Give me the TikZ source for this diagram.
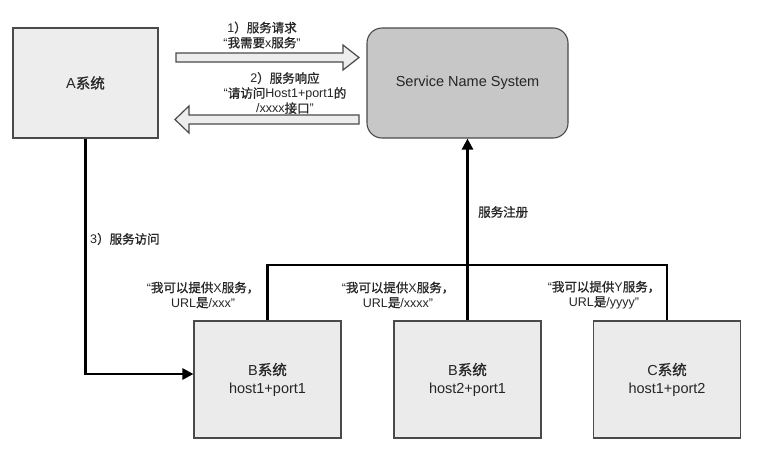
\documentclass[tikz,border=0pt]{standalone}
\usepackage{fontspec}
\setmainfont{Liberation Sans}
\newfontfamily\cjk[FakeBold=1]{Noto Sans CJK SC}
\newcommand\zh[1]{{\cjk #1}}
\usetikzlibrary{arrows.meta}
\definecolor{edge}{HTML}{4A4A4A}
\definecolor{txt}{HTML}{262626}
\begin{document}
\begin{tikzpicture}[x=1pt,y=-1pt,
  sysbox/.style={draw=edge,line width=1.1pt,fill=black!8,minimum width=147pt,minimum height=117pt,
    align=center,font=\fontsize{14.5}{18}\selectfont,text=txt,inner sep=0pt},
  lbl/.style={align=center,font=\fontsize{12.5}{15}\selectfont,text=txt,inner sep=0pt},
  conn/.style={line width=2.6pt,black},
  tip/.style={-{Triangle[length=11pt,width=11pt]}},
  blk/.style={draw=edge,line width=1.2pt,fill=black!7,line join=miter}]
\useasboundingbox (0,0) rectangle (774,461);
\fill[white] (0,0) rectangle (774,461);

\node[sysbox,minimum width=145pt,minimum height=110pt,fill=black!7] (a) at (85.5,83) {A\zh{系统}};
\node[sysbox,minimum width=201pt,minimum height=110pt,fill=black!22,rounded corners=15pt] (sns) at (467.5,83) {Service Name System};
\node[sysbox] (b1) at (267.5,379.5) {B\zh{系统}\\host1+port1};
\node[sysbox] (b2) at (467.5,379.5) {B\zh{系统}\\host2+port1};
\node[sysbox] (c)  at (667,379.5) {C\zh{系统}\\host1+port2};

% block arrows
\draw[blk] (176,53) -- (343,53) -- (343,45) -- (359,57.5) -- (343,70) -- (343,62) -- (176,62) -- cycle;
\draw[blk] (359,115) -- (189,115) -- (189,106) -- (175,119.5) -- (189,133) -- (189,124) -- (359,124) -- cycle;

\node[lbl] (t1) at (262,35) {1\zh{）服务请求}\\“\zh{我需要}x\zh{服务}”};
\node[lbl] (t2) at (285,93) {2\zh{）服务响应}\\“\zh{请访问}Host1+port1\zh{的}\\/xxxx\zh{接口}”};

% access line
\coordinate (bend) at (a.south |- 0,374);
\draw[conn,tip] (a.south) -- (bend) -- (b1.west |- bend);
\node[lbl,anchor=west] (t3) at (90,239) {3\zh{）服务访问}};

% registration bus
\coordinate (bus) at (0,265);
\draw[conn,line join=miter] (b1.north) -- (b1.north |- bus) -- (c.north |- bus) -- (c.north);
\draw[conn] (b2.north) -- (b2.north |- bus);
\draw[conn,tip] (b2.north |- bus) -- (sns.south);
\node[lbl,anchor=west] (reg) at (478,212) {\zh{服务注册}};

\node[lbl] (l1) at (203,295) {“\zh{我可以提供}X\zh{服务，}\\URL\zh{是}/xxx”};
\node[lbl] (l2) at (398,295) {“\zh{我可以提供}X\zh{服务，}\\URL\zh{是}/xxxx”};
\node[lbl] (l3) at (604,295) {“\zh{我可以提供}Y\zh{服务，}\\URL\zh{是}/yyyy”};
\end{tikzpicture}
\end{document}
